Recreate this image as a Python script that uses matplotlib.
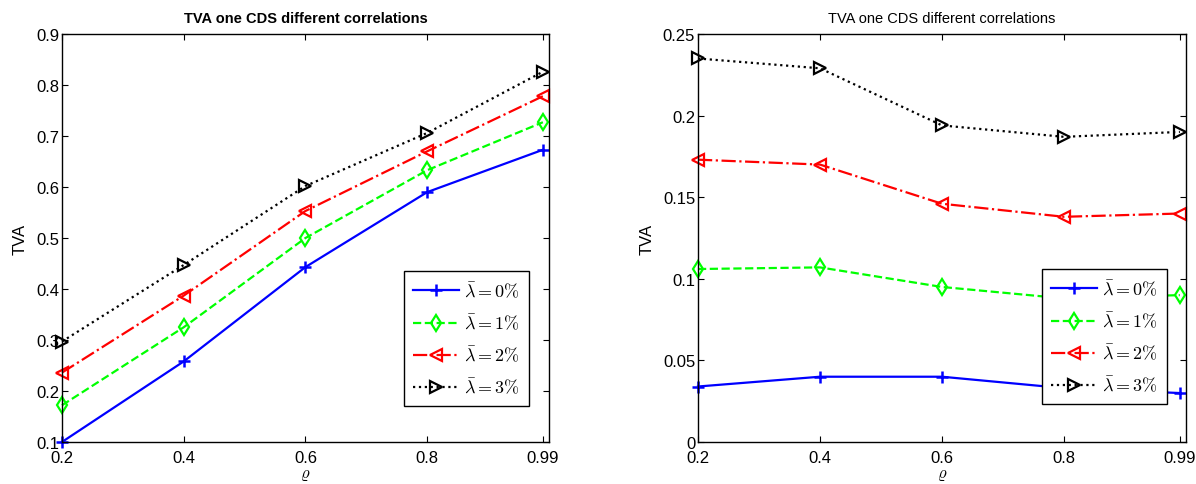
import matplotlib.pyplot as plt

plt.rcParams['font.family'] = ['Liberation Sans', 'DejaVu Sans']
plt.rcParams['mathtext.fontset'] = 'cm'

# correlation levels
rho = [0.2, 0.4, 0.6, 0.8, 0.99]
rho_labels = ["0.2", "0.4", "0.6", "0.8", "0.99"]
lam_labels = [r"$\bar{\lambda}=0\%$", r"$\bar{\lambda}=1\%$",
              r"$\bar{\lambda}=2\%$", r"$\bar{\lambda}=3\%$"]

# left panel
tva_left_0 = [0.100, 0.258, 0.443, 0.590, 0.673]
tva_left_1 = [0.172, 0.325, 0.500, 0.633, 0.727]
tva_left_2 = [0.236, 0.387, 0.553, 0.670, 0.778]
tva_left_3 = [0.297, 0.447, 0.602, 0.706, 0.826]

# right panel
tva_right_0 = [0.034, 0.040, 0.040, 0.033, 0.030]
tva_right_1 = [0.106, 0.107, 0.095, 0.088, 0.090]
tva_right_2 = [0.173, 0.170, 0.146, 0.138, 0.140]
tva_right_3 = [0.235, 0.229, 0.194, 0.187, 0.190]

styles = [
    dict(color=(0, 0, 1), ls="-", marker="+", ms=9, mew=1.8),
    dict(color=(0, 1, 0), ls="--", marker="d", ms=8, mew=1.6, mfc="none"),
    dict(color=(1, 0, 0), ls="-.", marker="<", ms=8, mew=1.6, mfc="none"),
    dict(color="black", ls=":", marker=">", ms=8, mew=1.6, mfc="none"),
]

fig = plt.figure(figsize=(11.96, 4.85), dpi=100)
ax1 = fig.add_axes([0.0518, 0.0866, 0.4072, 0.8412])
ax2 = fig.add_axes([0.5836, 0.0866, 0.4080, 0.8412])

for ax, series in [(ax1, [tva_left_0, tva_left_1, tva_left_2, tva_left_3]),
                   (ax2, [tva_right_0, tva_right_1, tva_right_2, tva_right_3])]:
    for vals, st, lab in zip(series, styles, lam_labels):
        ax.plot(rho, vals, lw=1.6, label=lab, clip_on=False, **st)
    ax.set_xlim(0.2, 1.0)
    ax.set_xticks(rho)
    ax.set_xticklabels(rho_labels)
    ax.tick_params(direction="in", top=True, right=True, labelsize=12,
                   length=4, pad=2)
    ax.tick_params(axis="x", pad=6)
    ax.set_xlabel(r"$\varrho$", fontsize=12, labelpad=1)
    ax.set_ylabel("TVA", fontsize=12, labelpad=6)
    for s in ax.spines.values():
        s.set_linewidth(1.0)

ax1.set_ylim(0.1, 0.9)
ax1.set_title("TVA one CDS different correlations", fontsize=10.5,
              fontweight="bold", pad=9)
ax2.set_ylim(0, 0.25)
ax2.set_yticks([0, 0.05, 0.1, 0.15, 0.2, 0.25])
ax2.set_yticklabels(["0", "0.05", "0.1", "0.15", "0.2", "0.25"])
ax2.set_title("TVA one CDS different correlations", fontsize=10.5, pad=9)

leg_kw = dict(fontsize=13, frameon=True, fancybox=False, edgecolor="black",
              framealpha=1, handlelength=2.5, labelspacing=0.65, borderpad=0.5,
              handletextpad=0.3, borderaxespad=0)
l1 = ax1.legend(loc="lower right", bbox_to_anchor=(0.959, 0.088), **leg_kw)
l2 = ax2.legend(loc="lower right", bbox_to_anchor=(0.961, 0.093), **leg_kw)
for l in (l1, l2):
    l.get_frame().set_linewidth(1.0)

fig.savefig("out.png", dpi=100)
